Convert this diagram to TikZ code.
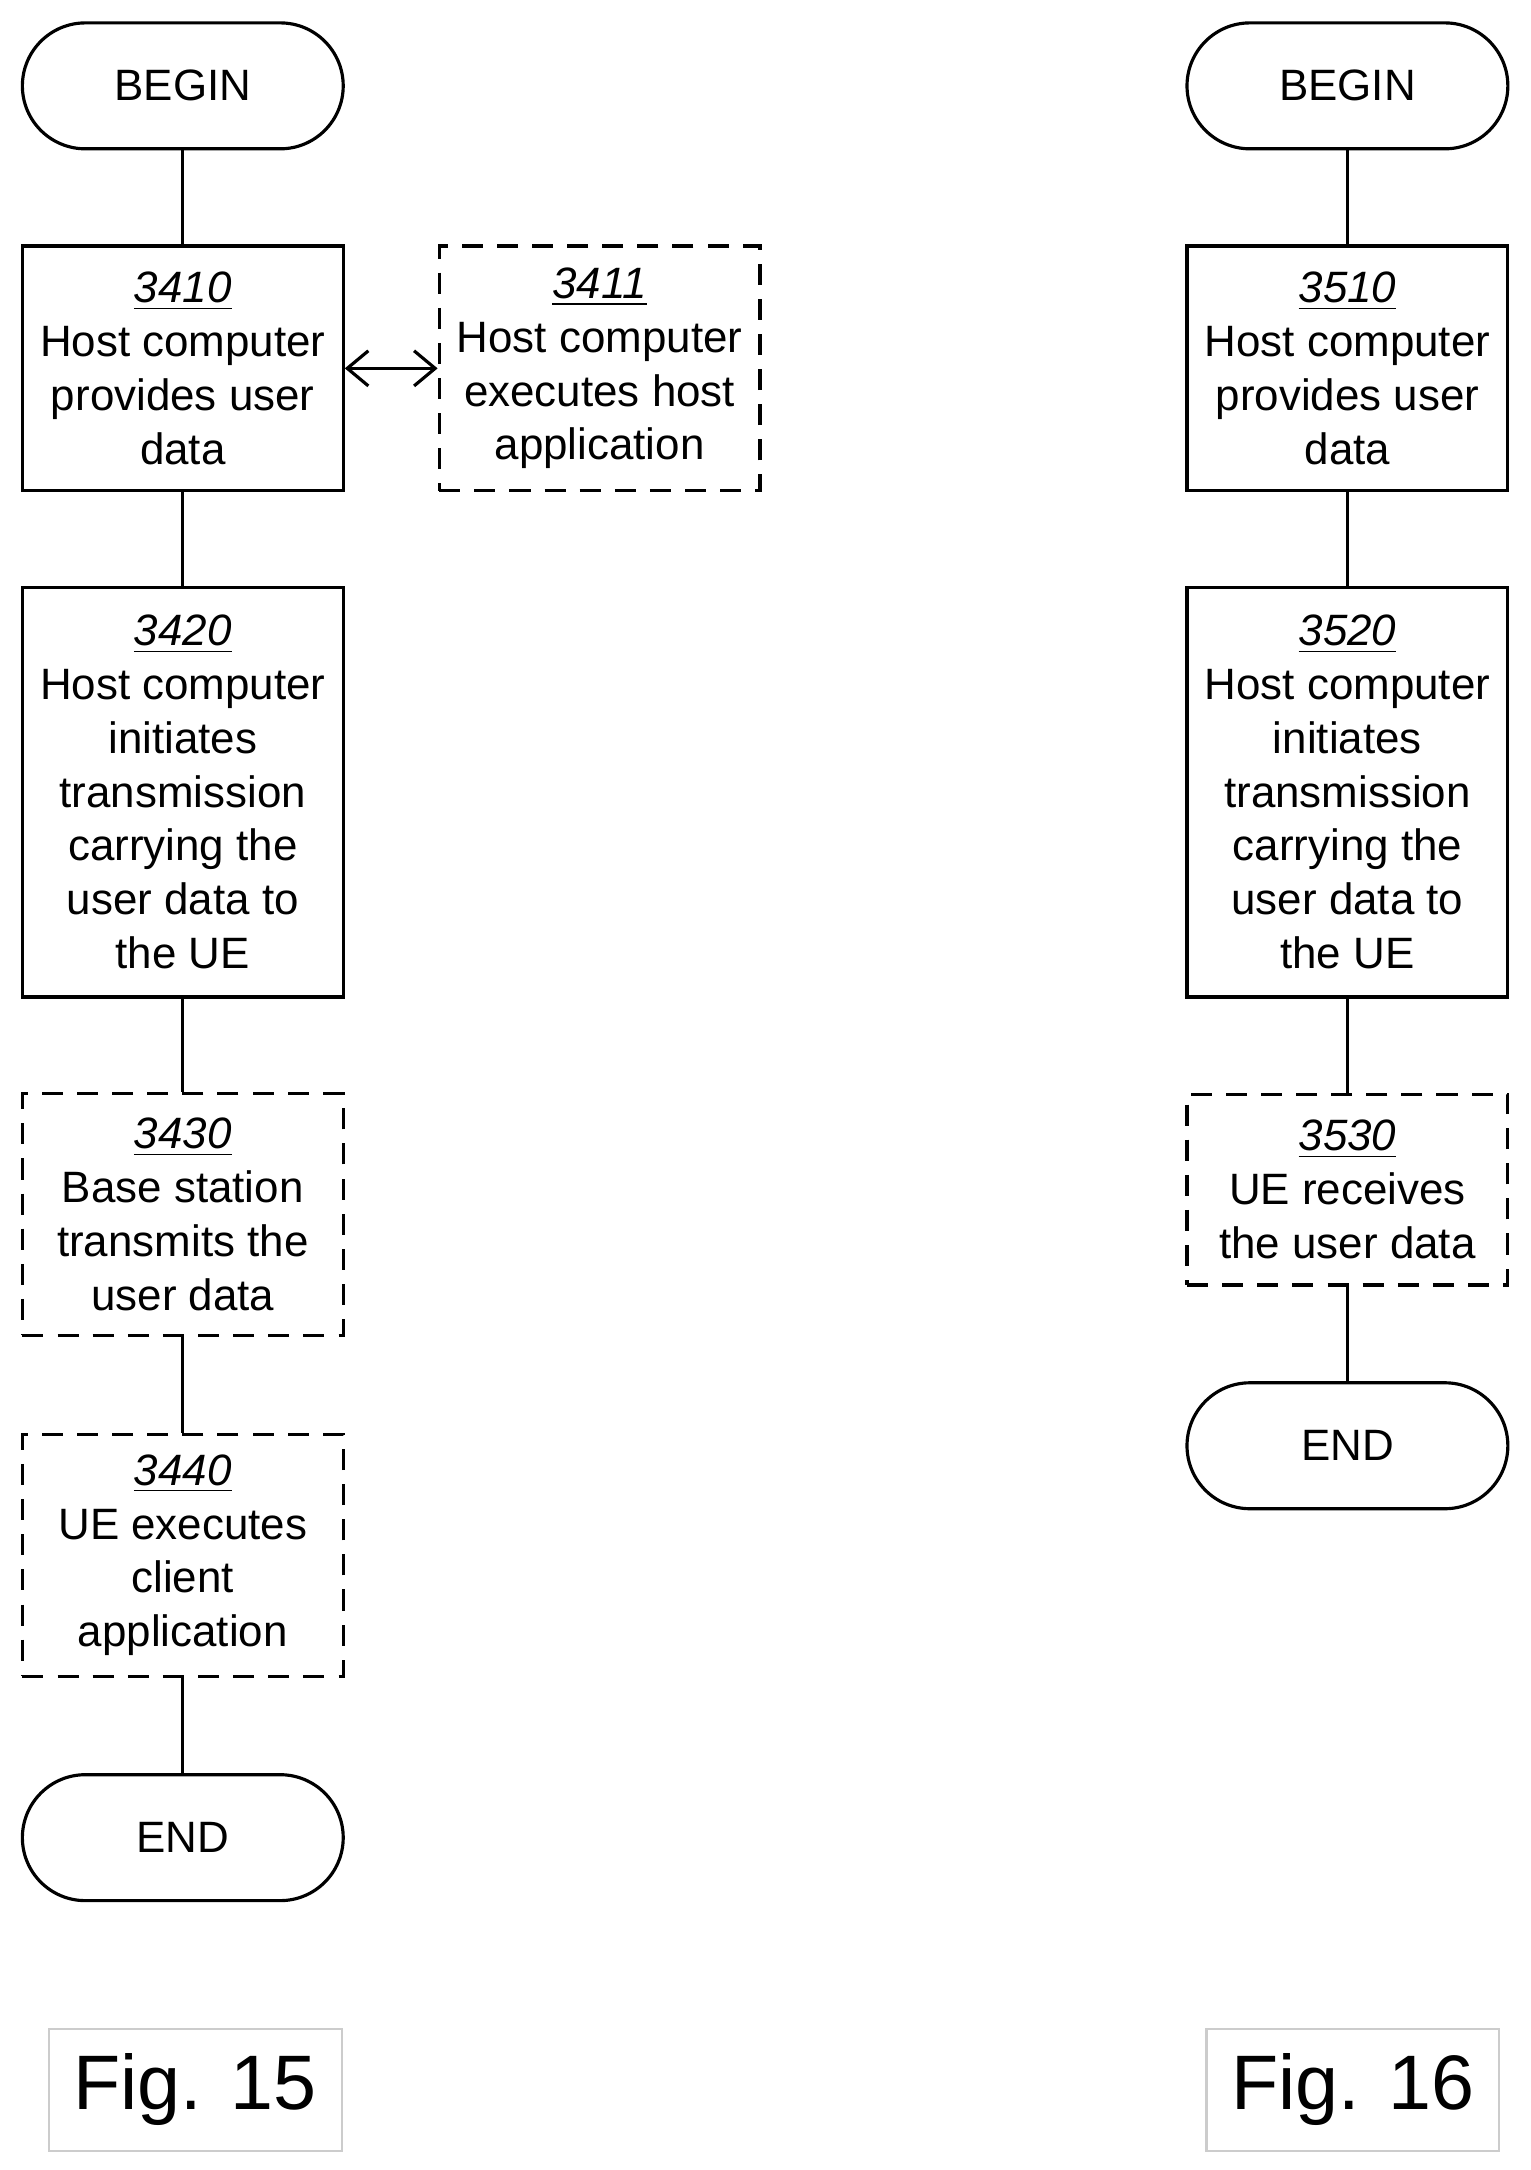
\documentclass[tikz,border=0pt]{standalone}
\usepackage{fontspec}
\setmainfont{Liberation Sans}
\usetikzlibrary{arrows.meta}
\tikzset{
  stepbox/.style={draw, line width=0.9pt, minimum width=3.21cm, align=center, font=\fontsize{12.5}{15.3}\selectfont, inner sep=0pt},
  opt/.style={stepbox, dashed, dash pattern=on 6pt off 4pt},
  term/.style={stepbox, rounded corners=0.63cm, minimum height=1.26cm},
  figlabel/.style={draw=gray!40, line width=0.6pt, minimum width=2.93cm, minimum height=1.22cm, font=\fontsize{22}{26}\selectfont}
}
\newcommand{\stepno}[1]{\underline{\textit{#1}}}
\begin{document}
\begin{tikzpicture}[x=0.01385cm, y=-0.01385cm]
  \useasboundingbox (0,0) rectangle (1105,1567);
  % Fig. 15
  \node[term] (begA) at (132,62) {BEGIN};
  \node[stepbox, minimum height=2.45cm] (s3410) at (132,266) {\stepno{3410}\\Host computer\\provides user\\data};
  \node[opt, minimum height=2.45cm] (s3411) at (433,266) {\stepno{3411}\\Host computer\\executes host\\application};
  \node[stepbox, minimum height=4.1cm] (s3420) at (132,572) {\stepno{3420}\\Host computer\\initiates\\transmission\\carrying the\\user data to\\the UE};
  \node[opt, minimum height=2.42cm] (s3430) at (132,877) {\stepno{3430}\\Base station\\transmits the\\user data};
  \node[opt, minimum height=2.42cm] (s3440) at (132,1123) {\stepno{3440}\\UE executes\\client\\application};
  \node[term] (endA) at (132,1327) {END};
  \node[figlabel] (figA) at (141,1509) {Fig. 15};
  \draw[line width=0.9pt] (begA) -- (s3410) (s3410) -- (s3420) (s3420) -- (s3430) (s3430) -- (s3440) (s3440) -- (endA);
  \draw[line width=0.9pt, {Straight Barb[length=6pt,width=10pt]}-{Straight Barb[length=6pt,width=10pt]}] (s3410) -- (s3411);
  % Fig. 16
  \node[term] (begB) at (973,62) {BEGIN};
  \node[stepbox, minimum height=2.45cm] (s3510) at (973,266) {\stepno{3510}\\Host computer\\provides user\\data};
  \node[stepbox, minimum height=4.1cm] (s3520) at (973,572) {\stepno{3520}\\Host computer\\initiates\\transmission\\carrying the\\user data to\\the UE};
  \node[opt, minimum height=1.91cm] (s3530) at (973,859) {\stepno{3530}\\UE receives\\the user data};
  \node[term] (endB) at (973,1044) {END};
  \node[figlabel] (figB) at (977,1509) {Fig. 16};
  \draw[line width=0.9pt] (begB) -- (s3510) (s3510) -- (s3520) (s3520) -- (s3530) (s3530) -- (endB);
\end{tikzpicture}
\end{document}
